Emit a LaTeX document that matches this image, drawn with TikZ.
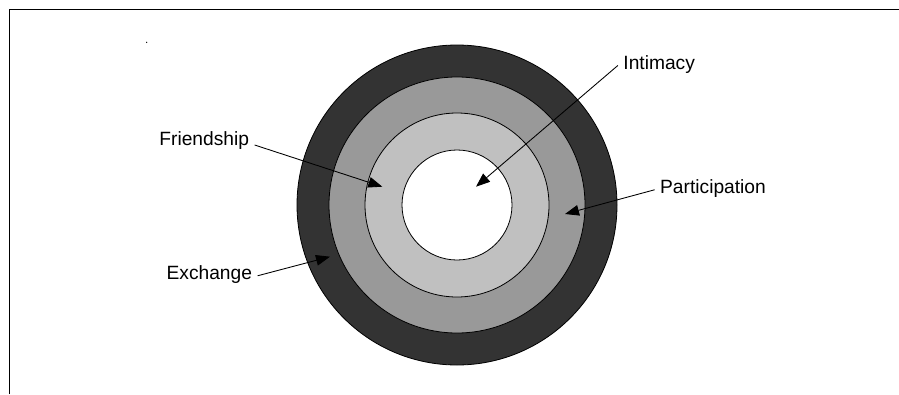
\documentclass[tikz,border=0pt]{standalone}
\usepackage{fontspec}
\setmainfont{Liberation Sans}
\usetikzlibrary{arrows.meta}

\definecolor{ringdark}{HTML}{333333}
\definecolor{ringmid}{HTML}{999999}
\definecolor{ringlight}{HTML}{C0C0C0}
\newcommand{\labelfont}{\fontsize{14.4}{17}\selectfont}

\begin{document}
\begin{tikzpicture}[>={Triangle[length=10.5pt,width=8pt]}, x=0.75pt, y=0.75pt,
    lbl/.style={font=\labelfont, inner sep=4pt, anchor=base},
    ring/.style={draw=black, line width=0.6pt},
    pointer/.style={->, line width=0.65pt}]

\useasboundingbox (0,0) rectangle (899,394);

% Frame (top and left edges only)
\draw[line width=0.8pt] (9.3,0) -- (9.3,384.7) -- (899,384.7);
\fill (146.7,351.7) circle (0.7);

% Rings, outside in
\coordinate (c) at (457,189);
\filldraw[ring, fill=ringdark] (c) circle (160);
\filldraw[ring, fill=ringmid] (c) circle (128);
\filldraw[ring, fill=ringlight] (c) circle (92);
\filldraw[ring, fill=white] (c) circle (55);

% Labels
\node[lbl] (intimacy) at (659.2,325) {Intimacy};
\node[lbl] (participation) at (713,200.7) {Participation};
\node[lbl] (friendship) at (204.2,249) {Friendship};
\node[lbl] (exchange) at (209.3,114.7) {Exchange};

% Arrow tips
\coordinate (intimacytip) at (476,207.3);
\coordinate (participationtip) at (565,180);
\coordinate (friendshiptip) at (382.3,207.3);
\coordinate (exchangetip) at (330,137.3);

% Pointers
\draw[pointer] (intimacy.mid west) -- (intimacytip);
\draw[pointer] (participation.mid west) -- (participationtip);
\draw[pointer] (friendship.base east) -- (friendshiptip);
\draw[pointer] (exchange.mid east) -- (exchangetip);

\end{tikzpicture}
\end{document}
